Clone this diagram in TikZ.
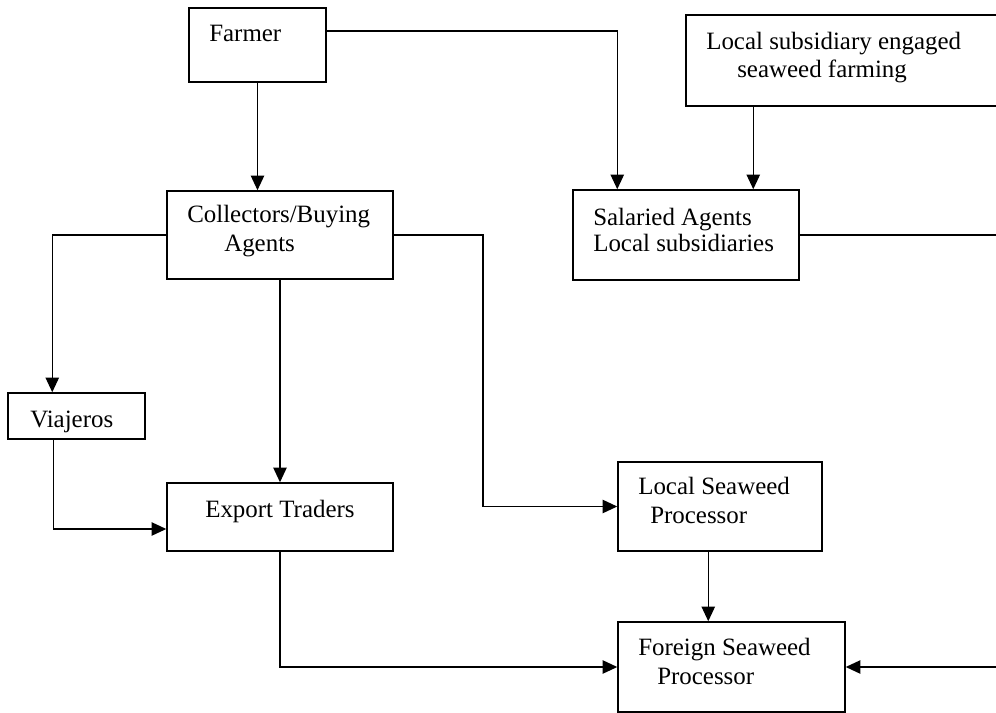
\documentclass[tikz,border=0pt]{standalone}
\usepackage{fontspec}
\setmainfont{Liberation Serif}
\usetikzlibrary{arrows.meta}
\begin{document}
\begin{tikzpicture}[
  x=0.75pt, y=-0.75pt,
  box/.style={draw, line width=1.1pt, inner sep=0pt, rectangle},
  lbl/.style={anchor=base west, inner sep=0pt, font=\fontsize{18.7}{21}\selectfont},
  link/.style={line width=1.1pt},
  arr/.style={line width=1.1pt, -{Triangle[length=11pt,width=10pt]}}
]
\useasboundingbox (0,0) rectangle (996,713);
\clip (0,0) rectangle (996,713);

% boxes
\node[box, minimum width=137*0.75pt, minimum height=74*0.75pt] (farmer) at (257.5,45) {};
\node[box, minimum width=324*0.75pt, minimum height=91*0.75pt] (lsub) at (848,60.5) {};
\node[box, minimum width=226*0.75pt, minimum height=90*0.75pt] (sal) at (686,235) {};
\node[box, minimum width=226*0.75pt, minimum height=88*0.75pt] (coll) at (280,235) {};
\node[box, minimum width=137*0.75pt, minimum height=46*0.75pt] (via) at (76.5,416) {};
\node[box, minimum width=226*0.75pt, minimum height=68*0.75pt] (exp) at (280,517) {};
\node[box, minimum width=204*0.75pt, minimum height=89*0.75pt] (lp) at (720,506.5) {};
\node[box, minimum width=227*0.75pt, minimum height=90*0.75pt] (fp) at (731.5,667) {};

% labels
\node[lbl] (tfarmer) at (209,42) {Farmer};
\node[lbl] (tlsub1) at (706,50) {Local subsidiary engaged};
\node[lbl] (tlsub2) at (737,78) {seaweed farming};
\node[lbl] (tsal1) at (593,225) {Salaried Agents};
\node[lbl] (tsal2) at (593,252) {Local subsidiaries};
\node[lbl] (tcoll1) at (187,223) {Collectors/Buying};
\node[lbl] (tcoll2) at (224,252) {Agents};
\node[lbl] (tvia) at (30,427) {Viajeros};
\node[lbl] (texp) at (205,517) {Export Traders};
\node[lbl] (tlp1) at (638,494) {Local Seaweed};
\node[lbl] (tlp2) at (650,523) {Processor};
\node[lbl] (tfp1) at (638,655) {Foreign Seaweed};
\node[lbl] (tfp2) at (657,684) {Processor};

% bend points
\coordinate (rightedge) at (1012,0);
\coordinate (collbend) at (483,0);

% connectors
\draw[arr] (farmer.south) -- (farmer.south |- coll.north);
\draw[arr] ([yshift=10.5pt]farmer.east) -| ([xshift=33.75pt]sal.north west);
\draw[arr] ([xshift=51pt]lsub.south west) -- ([xshift=51pt]lsub.south west |- sal.north);
\draw[arr] (sal.east) -- (sal.east -| rightedge) |- (fp.east);
\draw[arr] (coll.west) -| ([xshift=33.75pt]via.north west);
\draw[arr] (coll.south) -- (exp.north);
\draw[arr] (coll.east) -- (coll.east -| collbend) |- (lp.west);
\draw[arr] ([xshift=34.5pt]via.south west) |- ([yshift=-9pt]exp.west);
\draw[arr] ([xshift=68.25pt]lp.south west) -- ([xshift=68.25pt]lp.south west |- fp.north);
\draw[arr] (exp.south) |- (fp.west);
\end{tikzpicture}
\end{document}
